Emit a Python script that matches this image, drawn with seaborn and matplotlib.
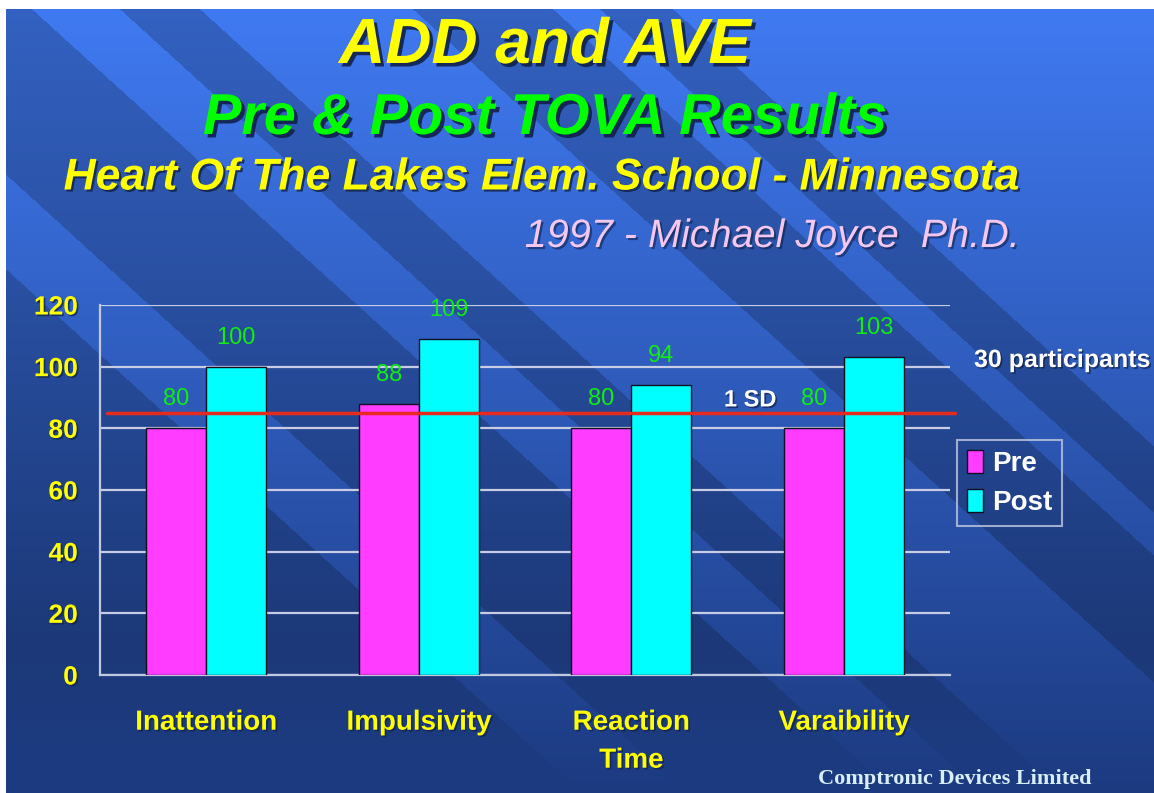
import numpy as np
import pandas as pd
import matplotlib
matplotlib.use('Agg')
import matplotlib.pyplot as plt
import matplotlib.patheffects as pe
from matplotlib.patches import Patch
import seaborn as sns

# data
measures = ['Inattention', 'Impulsivity', 'Reaction\nTime', 'Varaibility']
pre_scores = [80, 88, 80, 80]
post_scores = [100, 109, 94, 103]
sd_line = 85
phases = ['Pre', 'Post']

df = pd.DataFrame({
    'measure': measures * 2,
    'score': pre_scores + post_scores,
    'phase': ['Pre'] * 4 + ['Post'] * 4,
})

W, H = 1154, 793
sns.set_style('white')
plt.rcParams['font.family'] = ['Liberation Sans', 'DejaVu Sans']

fig = plt.figure(figsize=(W / 100, H / 100), dpi=100, facecolor='white')

def fx(x):
    return x / W

def fy(y):
    return 1 - y / H

# background: blue gradient with diagonal bands
bg = fig.add_axes([fx(6), 0, 1 - fx(6), fy(9)], zorder=-10)
yy, xx = np.mgrid[9:H, 6:W]
t = (yy - 9) / (H - 9)
top = np.array([64, 122, 242]) / 255
bot = np.array([28, 58, 128]) / 255
base = top[None, None, :] * (1 - t[..., None]) + bot[None, None, :] * t[..., None]
c = xx - 1.1 * yy
light = np.zeros_like(c, dtype=bool)
for a, b in [(-290, -186), (22, 110), (190, 403), (543, 590), (663, 1e6)]:
    light |= (c >= a) & (c < b)
fade = np.clip((yy - 640) / 150, 0, 1)
factor = np.where(light, 1.0, 0.8 + 0.2 * fade)
img = base * factor[..., None]
bg.imshow(img, aspect='auto', extent=[6, W, H, 9])
bg.axis('off')

# titles
shadow = [pe.SimplePatchShadow(offset=(2.5, -2.5), shadow_rgbFace='#10204a', alpha=0.9), pe.Normal()]
fig.text(fx(545), fy(46), 'ADD and AVE', ha='center', va='center', fontsize=46,
         fontweight='bold', fontstyle='italic', color='#ffff00', path_effects=shadow)
fig.text(fx(545), fy(119), 'Pre & Post TOVA Results', ha='center', va='center', fontsize=41.5,
         fontweight='bold', fontstyle='italic', color='#00ff00', path_effects=shadow)
fig.text(fx(542), fy(178), 'Heart Of The Lakes Elem. School - Minnesota', ha='center', va='center',
         fontsize=32, fontweight='bold', fontstyle='italic', color='#ffff00',
         path_effects=[pe.SimplePatchShadow(offset=(1.5, -1.5), shadow_rgbFace='#10204a', alpha=0.8), pe.Normal()])
fig.text(fx(1020), fy(236), '1997 - Michael Joyce  Ph.D.', ha='right', va='center', fontsize=28.5,
         fontstyle='italic', color='#f4c8ee',
         path_effects=[pe.SimplePatchShadow(offset=(1.5, -1.5), shadow_rgbFace='#10204a', alpha=0.6), pe.Normal()])

# bar chart
ax = fig.add_axes([fx(100), fy(675), fx(950) - fx(100), fy(305) - fy(675)])
ax.set_facecolor('none')
sns.barplot(data=df, x='measure', y='score', hue='phase', hue_order=phases,
            palette=['#ff3cff', '#00ffff'], saturation=1, width=0.565,
            edgecolor='#101020', linewidth=1, legend=False, ax=ax, zorder=3)
ax.set_xlim(-0.5, 3.5)
ax.set_ylim(0, 120)
ax.set_yticks(range(0, 121, 20))
ax.yaxis.grid(True, color='#c8cce4', lw=1.6, zorder=0)
ax.set_axisbelow(True)
for s in ['top', 'right']:
    ax.spines[s].set_visible(False)
for s in ['left', 'bottom']:
    ax.spines[s].set_color('#c0c8e0')
    ax.spines[s].set_linewidth(1.6)
ax.set_xlabel('')
ax.set_ylabel('')

lbl_shadow = [pe.SimplePatchShadow(offset=(1.2, -1.2), shadow_rgbFace='#10204a', alpha=0.7), pe.Normal()]
ax.tick_params(axis='y', length=10, width=1.6, color='#c8cce4', pad=6,
               labelsize=19, labelcolor='#ffff00')
ax.tick_params(axis='x', which='major', length=0, pad=25, labelsize=20, labelcolor='#ffff00')
ax.set_xticks(np.arange(-0.5, 4, 1), minor=True)
ax.tick_params(axis='x', which='minor', length=8, width=1.6, color='#c8cce4')
for lab in ax.get_yticklabels():
    lab.set_fontweight('bold')
    lab.set_path_effects(lbl_shadow)
for lab in ax.get_xticklabels():
    lab.set_fontweight('bold')
    lab.set_path_effects(lbl_shadow)
    lab.set_linespacing(1.6)
    lab.set_verticalalignment('top')

for cont in ax.containers:
    ax.bar_label(cont, padding=13, fontsize=17, color='#10ee10')

ax.axhline(sd_line, xmin=0.008, xmax=1.006, color='#e62a1e', lw=2.5, zorder=5, clip_on=False)
ax.text(2.56, 89.2, '1 SD', ha='center', va='center', fontsize=17, fontweight='bold',
        color='white', path_effects=lbl_shadow)

handles = [Patch(facecolor='#ff3cff', edgecolor='#101020'), Patch(facecolor='#00ffff', edgecolor='#101020')]
leg = ax.legend(handles, phases, loc='upper left', bbox_to_anchor=(fx(957), fy(440)),
                bbox_transform=fig.transFigure, borderaxespad=0, frameon=True, fancybox=False,
                handlelength=0.6, handleheight=0.9, handletextpad=0.3, labelspacing=0.45,
                borderpad=0.35, prop={'size': 20, 'weight': 'bold'})
leg.get_frame().set_facecolor('none')
leg.get_frame().set_edgecolor('#c0c8e0')
leg.get_frame().set_linewidth(1.5)
for txt in leg.get_texts():
    txt.set_color('white')

fig.text(fx(1150), fy(360), '30 participants', ha='right', va='center', fontsize=18,
         fontweight='bold', color='white', path_effects=lbl_shadow)
fig.text(fx(1092), fy(779), 'Comptronic Devices Limited', ha='right', va='center', fontsize=16,
         fontweight='bold', family='Liberation Serif', color='#d8eef8')

fig.savefig('out.png', dpi=100, facecolor='white')
